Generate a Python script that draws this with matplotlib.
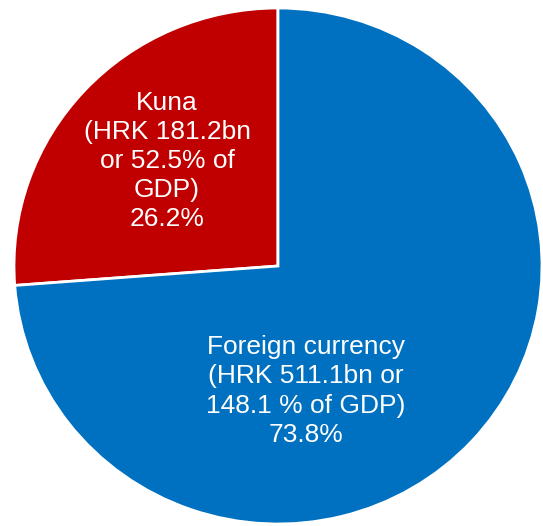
import matplotlib.pyplot as plt

plt.rcParams['font.family'] = ['Liberation Sans', 'DejaVu Sans']

# Currency structure of the debt
categories = ['Kuna', 'Foreign currency']
amounts_bn = [181.2, 511.1]
gdp_share = ['52.5%', '148.1 %']
shares = [26.2, 73.8]
colors = ['#C00000', '#0070C0']

labels = [
    f'{categories[0]}\n(HRK {amounts_bn[0]}bn\nor {gdp_share[0]} of\nGDP)\n{shares[0]}%',
    f'{categories[1]}\n(HRK {amounts_bn[1]}bn or\n{gdp_share[1]} of GDP)\n{shares[1]}%',
]

fig = plt.figure(figsize=(5.43, 5.26), dpi=100)
ax = fig.add_axes([0, 0, 1, 1])

wedges, _ = ax.pie(shares, colors=colors, startangle=90, counterclock=True,
                   radius=1.0, wedgeprops=dict(edgecolor='white', linewidth=2))

# slightly flattened circle, as in the original figure
ax.set_aspect('auto')
ax.set_xlim(-278 / 264, (543 - 278) / 264)
ax.set_ylim((266 - 526) / 258, 266 / 258)
ax.axis('off')

ax.text((167 - 278) / 264, (266 - 161) / 258, labels[0], ha='center', va='center',
        color='white', fontsize=19, linespacing=1.27)
ax.text((306 - 278) / 264, (266 - 391) / 258, labels[1], ha='center', va='center',
        color='white', fontsize=19, linespacing=1.27)

fig.savefig('out.png', dpi=100, facecolor='white')
